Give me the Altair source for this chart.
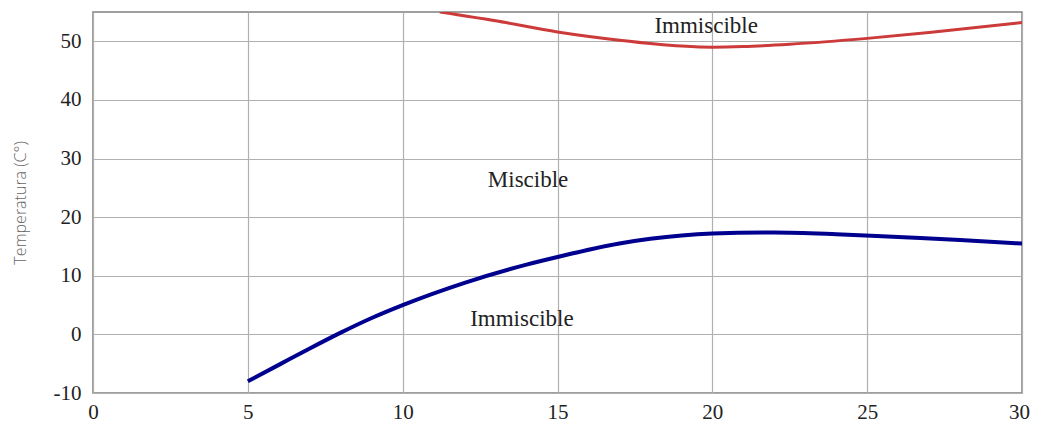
import altair as alt
import pandas as pd

blue_x = [5, 6, 7, 8, 9, 10, 12, 14, 15, 17, 18, 20, 22, 24, 26, 28, 30]
blue_y = [-8.0, -5.2, -2.4, 0.3, 2.8, 5.0, 8.8, 11.9, 13.2, 15.5, 16.3, 17.2, 17.4, 17.1, 16.6, 16.1, 15.5]
red_x = [11.2, 13, 15, 17, 19, 20, 21, 22.5, 25, 27, 30]
red_y = [55.0, 53.5, 51.6, 50.2, 49.2, 49.0, 49.1, 49.5, 50.5, 51.5, 53.2]
label_text = ["Immiscible", "Miscible", "Immiscible"]
label_x = [19.8, 14.05, 13.85]
label_y = [52.6, 26.3, 2.7]

blue = pd.DataFrame({"x": blue_x, "y": blue_y})
red = pd.DataFrame({"x": red_x, "y": red_y})
labels = pd.DataFrame({"t": label_text, "x": label_x, "y": label_y})

SERIF = "Times New Roman, Liberation Serif, serif"

xs = alt.Scale(domain=[0, 30], nice=False, zero=False)
ys = alt.Scale(domain=[-10, 55], nice=False, zero=False)

xax = alt.Axis(values=[0, 5, 10, 15, 20, 25, 30], title=None, grid=True, ticks=False,
               labelFlush=False, labelFont=SERIF, labelFontSize=21, labelColor="#222",
               labelOffset=alt.expr("datum.value == 30 ? -3 : 0"),
               labelPadding=8, domain=False, gridColor="#b0b0b0", gridWidth=1.2)
yax = alt.Axis(values=[-10, 0, 10, 20, 30, 40, 50], title="Temperatura (C°)", grid=True, ticks=False,
               labelFlush=False, labelFont=SERIF, labelFontSize=21, labelColor="#222",
               labelExpr="replace(datum.label, '−', '-')",
               labelPadding=12, domain=False, gridColor="#b0b0b0", gridWidth=1.2,
               titleFont="Open Sans", titleFontSize=16, titleFontWeight=300, titleColor="#666",
               titlePadding=25)

base_b = alt.Chart(blue).mark_line(color="#00008f", strokeWidth=4, interpolate="monotone", clip=True).encode(
    x=alt.X("x:Q", scale=xs, axis=xax), y=alt.Y("y:Q", scale=ys, axis=yax))
base_r = alt.Chart(red).mark_line(color="#cc3a3a", strokeWidth=3, interpolate="monotone", clip=True).encode(
    x=alt.X("x:Q", scale=xs), y=alt.Y("y:Q", scale=ys))
txt = alt.Chart(labels).mark_text(font=SERIF, fontSize=23, color="#222").encode(
    x=alt.X("x:Q", scale=xs), y=alt.Y("y:Q", scale=ys), text="t:N")

chart = alt.layer(base_b, base_r, txt).properties(
    width=929, height=381,
    autosize=alt.AutoSizeParams(type="none"),
    padding={"left": 85, "top": 4, "right": 8, "bottom": 31},
).configure(
    background="white",
    style={"guide-label": {"font": SERIF, "fontSize": 21, "fill": "#222"}},
).configure_view(stroke="#808080", strokeWidth=1.5).configure_axis(
    labelFont=SERIF, labelFontSize=21, labelColor="#222")

chart.save("out.html", embed_options={"renderer": "svg", "actions": False})
